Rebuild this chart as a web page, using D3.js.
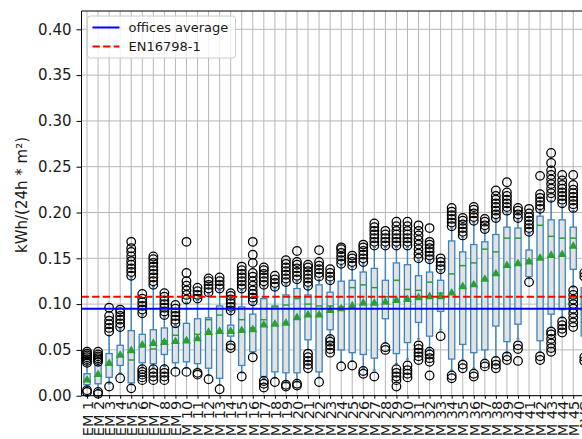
<!DOCTYPE html>
<html>
<head>
<meta charset="utf-8">
<script src="https://cdn.jsdelivr.net/npm/d3@7"></script>
<style>
  body { margin: 0; background: #fff; overflow: hidden; }
  svg { display: block; font-family: "DejaVu Sans", sans-serif; }
</style>
</head>
<body>
<svg id="chart"></svg>
<script>
const categories = ["EM 1","EM 2","EM 3","EM 4","EM 5","EM 6","EM 7","EM 8","EM 9",
  "M 10","M 11","M 12","M 13","M 14","M 15","M 16","M 17","M 18","M 19","M 20",
  "M 21","M 22","M 23","M 24","M 25","M 26","M 27","M 28","M 29","M 30",
  "M 31","M 32","M 33","M 34","M 35","M 36","M 37","M 38","M 39","M 40",
  "M 41","M 42","M 43","M 44","M 45","AVG"];

const whiskerLow  = [0.009,0.006,0.013,0.025,0.012,0.031,0.031,0.032,0.030,0.030,0.030,0.022,0.012,0.059,0.025,0.046,0.019,0.019,0.014,0.015,0.050,0.020,0.065,0.037,0.038,0.030,0.028,0.058,0.035,0.040,0.062,0.050,0.072,0.028,0.039,0.030,0.040,0.042,0.046,0.062,0.128,0.048,0.075,0.085,0.118,0.050];
const q1          = [0.012,0.013,0.020,0.033,0.014,0.036,0.035,0.045,0.036,0.037,0.035,0.030,0.019,0.065,0.033,0.048,0.021,0.026,0.025,0.025,0.061,0.026,0.072,0.050,0.047,0.045,0.041,0.084,0.046,0.058,0.080,0.065,0.092,0.040,0.056,0.047,0.050,0.076,0.059,0.078,0.130,0.060,0.089,0.094,0.138,0.065];
const medians     = [0.017,0.022,0.034,0.043,0.039,0.054,0.051,0.060,0.066,0.058,0.067,0.083,0.088,0.070,0.083,0.074,0.083,0.097,0.099,0.106,0.100,0.098,0.098,0.097,0.118,0.121,0.118,0.108,0.126,0.116,0.115,0.124,0.112,0.133,0.142,0.145,0.160,0.157,0.172,0.172,0.148,0.186,0.174,0.172,0.172,0.100];
const q3          = [0.024,0.033,0.046,0.055,0.071,0.067,0.072,0.074,0.075,0.079,0.084,0.085,0.098,0.077,0.097,0.089,0.106,0.098,0.110,0.117,0.110,0.121,0.113,0.125,0.126,0.135,0.139,0.126,0.145,0.143,0.131,0.135,0.126,0.169,0.157,0.165,0.168,0.176,0.184,0.183,0.159,0.196,0.192,0.192,0.184,0.118];
const whiskerHigh = [0.035,0.036,0.066,0.073,0.129,0.088,0.119,0.086,0.077,0.102,0.104,0.111,0.115,0.091,0.115,0.100,0.119,0.117,0.122,0.125,0.118,0.127,0.124,0.142,0.140,0.144,0.162,0.162,0.162,0.162,0.148,0.147,0.136,0.183,0.173,0.189,0.180,0.192,0.200,0.192,0.177,0.202,0.213,0.207,0.202,0.127];
const means       = [0.018,0.024,0.036,0.045,0.050,0.056,0.058,0.059,0.060,0.061,0.063,0.070,0.071,0.071,0.072,0.073,0.078,0.079,0.080,0.086,0.089,0.089,0.094,0.096,0.099,0.102,0.102,0.103,0.105,0.106,0.108,0.109,0.109,0.113,0.120,0.122,0.128,0.134,0.143,0.145,0.147,0.151,0.154,0.155,0.164,0.097];

const fliers = [
  [0.004,0.006,0.036,0.038,0.040,0.042,0.044,0.046,0.048],
  [0.002,0.004,0.037,0.039,0.041,0.043,0.045,0.048],
  [0.010,0.070,0.074,0.078,0.082,0.087,0.096],
  [0.019,0.075,0.079,0.083,0.087,0.091,0.094],
  [0.008,0.131,0.135,0.139,0.143,0.147,0.152,0.157,0.161,0.168],
  [0.017,0.020,0.023,0.026,0.029,0.090,0.094,0.098,0.102,0.106,0.111],
  [0.017,0.021,0.025,0.029,0.121,0.125,0.129,0.133,0.137,0.141,0.145,0.149,0.152],
  [0.017,0.021,0.025,0.029,0.088,0.092,0.096,0.100,0.104,0.108,0.112],
  [0.026,0.079,0.083,0.087,0.091,0.095,0.099],
  [0.026,0.105,0.110,0.115,0.120,0.125,0.134,0.168],
  [0.023,0.025,0.106,0.110,0.114,0.118],
  [0.018,0.113,0.117,0.121,0.125,0.128],
  [0.007,0.117,0.121,0.125,0.129],
  [0.052,0.055,0.093,0.097,0.101,0.105,0.109,0.112],
  [0.021,0.117,0.121,0.125,0.129,0.133,0.137,0.141],
  [0.042,0.103,0.107,0.111,0.115,0.120,0.125,0.130,0.134,0.145,0.154,0.168],
  [0.009,0.013,0.016,0.121,0.125,0.129,0.133,0.137,0.140],
  [0.015,0.119,0.123,0.127,0.131],
  [0.010,0.012,0.124,0.128,0.132,0.136,0.140,0.144,0.148],
  [0.011,0.013,0.127,0.131,0.135,0.139,0.143,0.146,0.158],
  [0.030,0.034,0.038,0.042,0.046,0.120,0.124,0.128,0.132,0.136,0.140,0.143],
  [0.015,0.130,0.134,0.138,0.142,0.146,0.159],
  [0.047,0.051,0.055,0.059,0.062,0.126,0.130,0.134,0.138],
  [0.032,0.144,0.148,0.152,0.156,0.160,0.162],
  [0.033,0.142,0.146,0.150,0.153],
  [0.024,0.027,0.146,0.150,0.154,0.158,0.162,0.165],
  [0.021,0.164,0.168,0.172,0.176,0.180,0.184,0.188],
  [0.050,0.053,0.164,0.168,0.172,0.176,0.180],
  [0.010,0.017,0.021,0.025,0.029,0.164,0.168,0.172,0.176,0.180,0.185,0.190],
  [0.020,0.024,0.028,0.033,0.164,0.168,0.172,0.176,0.180,0.185,0.190],
  [0.039,0.043,0.047,0.051,0.055,0.150,0.155,0.160,0.165,0.170,0.175,0.180,0.186],
  [0.022,0.037,0.041,0.045,0.048,0.149,0.153,0.157,0.161,0.165,0.168,0.183],
  [0.065,0.138,0.142,0.146,0.150],
  [0.019,0.022,0.185,0.189,0.193,0.197,0.201,0.205],
  [0.030,0.034,0.175,0.179,0.183,0.187,0.191,0.194],
  [0.021,0.024,0.191,0.195,0.199,0.203,0.206],
  [0.032,0.035,0.182,0.186,0.190,0.193],
  [0.030,0.034,0.038,0.194,0.198,0.202,0.206,0.210,0.214,0.218,0.224],
  [0.039,0.043,0.202,0.206,0.210,0.214,0.218,0.222,0.233],
  [0.038,0.051,0.055,0.194,0.198,0.202,0.205],
  [0.124,0.179,0.183,0.187,0.191,0.195,0.199,0.204],
  [0.039,0.043,0.204,0.208,0.212,0.216,0.220,0.240],
  [0.048,0.052,0.057,0.062,0.067,0.070,0.216,0.221,0.226,0.231,0.236,0.241,0.246,0.254,0.265],
  [0.069,0.073,0.077,0.081,0.210,0.214,0.218,0.222,0.226,0.230,0.235,0.241],
  [0.075,0.080,0.085,0.090,0.095,0.100,0.105,0.110,0.115,0.205,0.209,0.213,0.217,0.221,0.225,0.230,0.241],
  [0.038,0.042,0.130,0.134]
];

const yTicks = [0.00,0.05,0.10,0.15,0.20,0.25,0.30,0.35,0.40];
const officesAverage = 0.095;
const en16798 = 0.108;
const legendLabels = ["offices average", "EN16798-1"];

const width = 582;
const height = 439;

const svg = d3.select("#chart")
              .attr("width", width)
              .attr("height", height);

// axes area runs off the right edge of the window, like the original
const x = d3.scaleLinear()
            .domain([0.5, categories.length + 0.5])
            .range([81.5, 589.8]);

const y = d3.scaleLinear()
            .domain([0, 0.42])
            .range([395.7, 11]);

const positions = categories.map((d, i) => i + 1);
const boxW = 6.2;
const capW = boxW / 2;
const blue = "#3b84c0";
const green = "#2ca02c";

// grid
const grid = svg.append("g").attr("class", "grid");
grid.selectAll("line.gy")
    .data(yTicks)
    .enter()
    .append("line")
    .attr("x1", x.range()[0])
    .attr("x2", x.range()[1])
    .attr("y1", d => y(d))
    .attr("y2", d => y(d))
    .attr("stroke", "#b8b8b8")
    .attr("stroke-width", 1);

grid.selectAll("line.gx")
    .data(positions)
    .enter()
    .append("line")
    .attr("x1", d => x(d))
    .attr("x2", d => x(d))
    .attr("y1", y.range()[0])
    .attr("y2", y.range()[1])
    .attr("stroke", "#b8b8b8")
    .attr("stroke-width", 1);

// boxes
const boxes = svg.append("g")
                 .selectAll("g")
                 .data(positions)
                 .enter()
                 .append("g");

boxes.append("line")
     .attr("x1", d => x(d)).attr("x2", d => x(d))
     .attr("y1", (d, i) => y(whiskerLow[i])).attr("y2", (d, i) => y(q1[i]))
     .attr("stroke", blue).attr("stroke-width", 1.4);

boxes.append("line")
     .attr("x1", d => x(d)).attr("x2", d => x(d))
     .attr("y1", (d, i) => y(q3[i])).attr("y2", (d, i) => y(whiskerHigh[i]))
     .attr("stroke", blue).attr("stroke-width", 1.4);

boxes.append("line")
     .attr("x1", d => x(d) - capW / 2).attr("x2", d => x(d) + capW / 2)
     .attr("y1", (d, i) => y(whiskerLow[i])).attr("y2", (d, i) => y(whiskerLow[i]))
     .attr("stroke", blue).attr("stroke-width", 1.4);

boxes.append("line")
     .attr("x1", d => x(d) - capW / 2).attr("x2", d => x(d) + capW / 2)
     .attr("y1", (d, i) => y(whiskerHigh[i])).attr("y2", (d, i) => y(whiskerHigh[i]))
     .attr("stroke", blue).attr("stroke-width", 1.4);

boxes.append("rect")
     .attr("x", d => x(d) - boxW / 2)
     .attr("width", boxW)
     .attr("y", (d, i) => y(q3[i]))
     .attr("height", (d, i) => y(q1[i]) - y(q3[i]))
     .attr("fill", "#e2e2e2")
     .attr("stroke", blue)
     .attr("stroke-width", 1.3);

boxes.append("line")
     .attr("x1", d => x(d) - boxW / 2).attr("x2", d => x(d) + boxW / 2)
     .attr("y1", (d, i) => y(medians[i])).attr("y2", (d, i) => y(medians[i]))
     .attr("stroke", green).attr("stroke-width", 1.5);

// outliers
const flierPoints = fliers.flatMap((list, i) => list.map(v => ({pos: i + 1, v: v})));
svg.append("g")
   .selectAll("circle")
   .data(flierPoints)
   .enter()
   .append("circle")
   .attr("cx", d => x(d.pos))
   .attr("cy", d => y(d.v))
   .attr("r", 4.3)
   .attr("fill", "none")
   .attr("stroke", "#000")
   .attr("stroke-width", 1.25);

// means
svg.append("g")
   .selectAll("path")
   .data(positions)
   .enter()
   .append("path")
   .attr("d", d3.symbol(d3.symbolTriangle, 34))
   .attr("transform", (d, i) => "translate(" + x(d) + "," + (y(means[i]) + 0.8) + ")")
   .attr("fill", green);

// reference lines
svg.append("line")
   .attr("x1", x.range()[0]).attr("x2", x.range()[1])
   .attr("y1", y(officesAverage)).attr("y2", y(officesAverage))
   .attr("stroke", "#0000ff").attr("stroke-width", 2);

svg.append("line")
   .attr("x1", x.range()[0]).attr("x2", x.range()[1])
   .attr("y1", y(en16798)).attr("y2", y(en16798))
   .attr("stroke", "#ff0000").attr("stroke-width", 2)
   .attr("stroke-dasharray", "7.4,3.2");

// axes
const yAxisCall = d3.axisLeft(y)
                    .tickValues(yTicks)
                    .tickFormat(d3.format(".2f"))
                    .tickSize(5)
                    .tickPadding(5);

const yAxis = svg.append("g")
                 .attr("transform", "translate(" + x.range()[0] + ",0)")
                 .call(yAxisCall);
yAxis.select(".domain").remove();
yAxis.selectAll("text").style("font-size", "15px").attr("fill", "#1a1a1a").attr("font-family", "DejaVu Sans");

const xAxisCall = d3.axisBottom(x)
                    .tickValues(positions)
                    .tickFormat(d => categories[d - 1])
                    .tickSize(3);

const xAxis = svg.append("g")
                 .attr("transform", "translate(0," + y(0) + ")")
                 .call(xAxisCall);
xAxis.select(".domain").remove();
xAxis.selectAll("text")
     .attr("transform", "rotate(-90)")
     .attr("x", -5)
     .attr("y", 0)
     .attr("dy", "0.36em")
     .attr("text-anchor", "end")
     .attr("fill", "#1a1a1a")
     .attr("font-family", "DejaVu Sans")
     .style("font-size", "14.5px");

// spines
svg.append("line")
   .attr("x1", x.range()[0]).attr("x2", x.range()[0])
   .attr("y1", y.range()[0]).attr("y2", y.range()[1])
   .attr("stroke", "#000").attr("stroke-width", 1);
svg.append("line")
   .attr("x1", x.range()[0]).attr("x2", x.range()[1])
   .attr("y1", y.range()[1]).attr("y2", y.range()[1])
   .attr("stroke", "#000").attr("stroke-width", 1);
svg.append("line")
   .attr("x1", x.range()[0]).attr("x2", x.range()[1])
   .attr("y1", y.range()[0]).attr("y2", y.range()[0])
   .attr("stroke", "#000").attr("stroke-width", 1);

svg.append("text")
   .attr("transform", "rotate(-90)")
   .attr("x", -195)
   .attr("y", 27)
   .attr("text-anchor", "middle")
   .attr("font-size", "15px")
   .attr("fill", "#1a1a1a")
   .text("kWh/(24h * m²)");

// legend
const legend = svg.append("g").attr("transform", "translate(87.5,16)");
legend.append("rect")
      .attr("width", 148)
      .attr("height", 42)
      .attr("rx", 3)
      .attr("fill", "#fff")
      .attr("fill-opacity", 0.8)
      .attr("stroke", "#cccccc");

const legendColors = ["#0000ff", "#ff0000"];
legendLabels.forEach((label, i) => {
  const row = legend.append("g").attr("transform", "translate(0," + (11.5 + i * 19) + ")");
  row.append("line")
     .attr("x1", 5).attr("x2", 32)
     .attr("stroke", legendColors[i])
     .attr("stroke-width", 2)
     .attr("stroke-dasharray", i === 1 ? "7.4,3.2" : null);
  row.append("text")
     .attr("x", 41)
     .attr("dy", "0.35em")
     .attr("font-size", "13px")
     .attr("fill", "#1a1a1a")
     .text(label);
});
</script>
</body>
</html>
